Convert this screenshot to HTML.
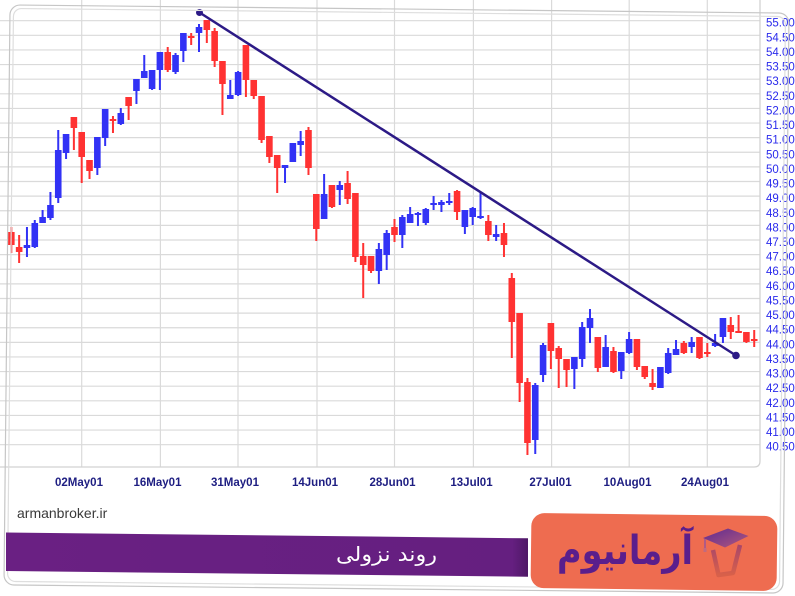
<!DOCTYPE html>
<html>
<head>
<meta charset="utf-8">
<style>
html,body{margin:0;padding:0;background:#fff;}
svg{display:block;}
</style>
</head>
<body>
<svg width="795" height="596" viewBox="0 0 795 596" xmlns="http://www.w3.org/2000/svg">
<defs>
<linearGradient id="cap" x1="0" y1="0" x2="1" y2="1">
<stop offset="0" stop-color="#5e2a92"/>
<stop offset="1" stop-color="#b2587c"/>
</linearGradient>
<linearGradient id="cup" x1="0" y1="0" x2="0" y2="1">
<stop offset="0" stop-color="#a8466a"/>
<stop offset="1" stop-color="#d8604a"/>
</linearGradient>
<linearGradient id="ban" x1="0" y1="0" x2="1" y2="0">
<stop offset="0" stop-color="#6a2083"/>
<stop offset="0.97" stop-color="#651f80"/>
<stop offset="1" stop-color="#4e1866"/>
</linearGradient>
</defs>
<rect width="795" height="596" fill="#fff"/>

<g stroke="#dadada" stroke-width="1.2">
<line x1="0" x2="760" y1="20.7" y2="20.7"/>
<line x1="0" x2="760" y1="35.32" y2="35.32"/>
<line x1="0" x2="760" y1="49.94" y2="49.94"/>
<line x1="0" x2="760" y1="64.56" y2="64.56"/>
<line x1="0" x2="760" y1="79.18" y2="79.18"/>
<line x1="0" x2="760" y1="93.8" y2="93.8"/>
<line x1="0" x2="760" y1="108.42" y2="108.42"/>
<line x1="0" x2="760" y1="123.04" y2="123.04"/>
<line x1="0" x2="760" y1="137.66" y2="137.66"/>
<line x1="0" x2="760" y1="152.28" y2="152.28"/>
<line x1="0" x2="760" y1="166.9" y2="166.9"/>
<line x1="0" x2="760" y1="181.52" y2="181.52"/>
<line x1="0" x2="760" y1="196.14" y2="196.14"/>
<line x1="0" x2="760" y1="210.76" y2="210.76"/>
<line x1="0" x2="760" y1="225.38" y2="225.38"/>
<line x1="0" x2="760" y1="240" y2="240"/>
<line x1="0" x2="760" y1="254.62" y2="254.62"/>
<line x1="0" x2="760" y1="269.24" y2="269.24"/>
<line x1="0" x2="760" y1="283.86" y2="283.86"/>
<line x1="0" x2="760" y1="298.48" y2="298.48"/>
<line x1="0" x2="760" y1="313.1" y2="313.1"/>
<line x1="0" x2="760" y1="327.72" y2="327.72"/>
<line x1="0" x2="760" y1="342.34" y2="342.34"/>
<line x1="0" x2="760" y1="356.96" y2="356.96"/>
<line x1="0" x2="760" y1="371.58" y2="371.58"/>
<line x1="0" x2="760" y1="386.2" y2="386.2"/>
<line x1="0" x2="760" y1="400.82" y2="400.82"/>
<line x1="0" x2="760" y1="415.44" y2="415.44"/>
<line x1="0" x2="760" y1="430.06" y2="430.06"/>
<line x1="0" x2="760" y1="444.68" y2="444.68"/>
<line x1="81.7" x2="81.7" y1="0" y2="467"/>
<line x1="160.4" x2="160.4" y1="0" y2="467"/>
<line x1="238" x2="238" y1="0" y2="467"/>
<line x1="317" x2="317" y1="0" y2="467"/>
<line x1="394.5" x2="394.5" y1="0" y2="467"/>
<line x1="473.4" x2="473.4" y1="0" y2="467"/>
<line x1="551.6" x2="551.6" y1="0" y2="467"/>
<line x1="629.2" x2="629.2" y1="0" y2="467"/>
<line x1="707.3" x2="707.3" y1="0" y2="467"/>
</g>
<path d="M0 467 H754 Q760 467 760 461 V0" fill="none" stroke="#d2d2d2" stroke-width="1.3"/>

<path fill="#ff3232" d="M10.32 227h2V253h-2Z M8.02 232h6.6V245h-6.6Z M18.14 235h2V263h-2Z M15.84 247h6.6V252h-6.6Z M72.88 117h2V150h-2Z M70.58 117h6.6V128h-6.6Z M80.7 132h2V183h-2Z M78.4 132h6.6V157h-6.6Z M88.52 160h2V179h-2Z M86.22 160h6.6V171h-6.6Z M111.98 116h2V133h-2Z M109.68 119h6.6V121h-6.6Z M127.62 97h2V120h-2Z M125.32 97h6.6V106h-6.6Z M166.72 47h2V72h-2Z M164.42 52h6.6V70h-6.6Z M190.18 33h2V45h-2Z M187.88 36h6.6V38h-6.6Z M205.82 20h2V43h-2Z M203.52 20h6.6V30h-6.6Z M213.64 28h2V67h-2Z M211.34 31h6.6V61h-6.6Z M221.46 61h2V115h-2Z M219.16 61h6.6V84h-6.6Z M244.92 45h2V97h-2Z M242.62 45h6.6V80h-6.6Z M252.74 80h2V99h-2Z M250.44 80h6.6V96h-6.6Z M260.56 96h2V143h-2Z M258.26 96h6.6V140h-6.6Z M268.38 136h2V163h-2Z M266.08 136h6.6V157h-6.6Z M276.2 155h2V193h-2Z M273.9 155h6.6V168h-6.6Z M307.48 127h2V175h-2Z M305.18 130h6.6V168h-6.6Z M315.3 194h2V241h-2Z M313 194h6.6V229h-6.6Z M330.94 185h2V208h-2Z M328.64 185h6.6V207h-6.6Z M346.58 171h2V204h-2Z M344.28 183h6.6V199h-6.6Z M354.4 193h2V262h-2Z M352.1 193h6.6V257h-6.6Z M362.22 243h2V298h-2Z M359.92 256h6.6V265h-6.6Z M370.04 256h2V273h-2Z M367.74 256h6.6V271h-6.6Z M393.5 219h2V242h-2Z M391.2 227h6.6V235h-6.6Z M456.06 190h2V220h-2Z M453.76 191h6.6V212h-6.6Z M487.34 215h2V241h-2Z M485.04 221h6.6V235h-6.6Z M502.98 223h2V257h-2Z M500.68 233h6.6V245h-6.6Z M510.8 273h2V358h-2Z M508.5 278h6.6V322h-6.6Z M518.62 313h2V402h-2Z M516.32 313h6.6V383h-6.6Z M526.44 378h2V455h-2Z M524.14 382h6.6V443h-6.6Z M549.9 323h2V369h-2Z M547.6 323h6.6V351h-6.6Z M557.72 346h2V388h-2Z M555.42 348h6.6V359h-6.6Z M565.54 359h2V387h-2Z M563.24 359h6.6V370h-6.6Z M596.82 337h2V372h-2Z M594.52 337h6.6V368h-6.6Z M612.46 347h2V373h-2Z M610.16 351h6.6V372h-6.6Z M635.92 339h2V370h-2Z M633.62 339h6.6V367h-6.6Z M643.74 366h2V379h-2Z M641.44 366h6.6V377h-6.6Z M651.56 369h2V390h-2Z M649.26 383h6.6V387h-6.6Z M682.84 341h2V354h-2Z M680.54 343h6.6V353h-6.6Z M698.48 337h2V359h-2Z M696.18 337h6.6V358h-6.6Z M706.3 343h2V357h-2Z M704 352h6.6V354h-6.6Z M729.76 317h2V339h-2Z M727.46 325h6.6V332h-6.6Z M737.58 315h2V333h-2Z M735.28 331h6.6V333h-6.6Z M745.4 332h2V343h-2Z M743.1 332h6.6V342h-6.6Z M753.22 330h2V347h-2Z M750.92 339h6.6V341h-6.6Z"/>

<path fill="#3232f5" d="M25.96 227h2V257h-2Z M23.66 245h6.6V248h-6.6Z M33.78 220h2V248h-2Z M31.48 223h6.6V247h-6.6Z M41.6 210h2V223h-2Z M39.3 217h6.6V223h-6.6Z M49.42 192h2V220h-2Z M47.12 205h6.6V218h-6.6Z M57.24 130h2V203h-2Z M54.94 150h6.6V198h-6.6Z M65.06 134h2V159h-2Z M62.76 134h6.6V153h-6.6Z M96.34 137h2V175h-2Z M94.04 137h6.6V168h-6.6Z M104.16 109h2V146h-2Z M101.86 109h6.6V138h-6.6Z M119.8 108h2V125h-2Z M117.5 113h6.6V124h-6.6Z M135.44 79h2V104h-2Z M133.14 79h6.6V91h-6.6Z M143.26 55h2V78h-2Z M140.96 71h6.6V78h-6.6Z M151.08 70h2V90h-2Z M148.78 70h6.6V89h-6.6Z M158.9 52h2V90h-2Z M156.6 52h6.6V70h-6.6Z M174.54 53h2V74h-2Z M172.24 55h6.6V72h-6.6Z M182.36 33h2V62h-2Z M180.06 33h6.6V51h-6.6Z M198 24h2V52h-2Z M195.7 27h6.6V33h-6.6Z M229.28 80h2V99h-2Z M226.98 95h6.6V99h-6.6Z M237.1 71h2V96h-2Z M234.8 72h6.6V95h-6.6Z M284.02 165h2V183h-2Z M281.72 165h6.6V168h-6.6Z M291.84 143h2V162h-2Z M289.54 143h6.6V162h-6.6Z M299.66 131h2V156h-2Z M297.36 141h6.6V145h-6.6Z M323.12 174h2V219h-2Z M320.82 194h6.6V219h-6.6Z M338.76 181h2V205h-2Z M336.46 185h6.6V190h-6.6Z M377.86 243h2V284h-2Z M375.56 249h6.6V271h-6.6Z M385.68 230h2V270h-2Z M383.38 233h6.6V255h-6.6Z M401.32 215h2V248h-2Z M399.02 217h6.6V235h-6.6Z M409.14 207h2V223h-2Z M406.84 214h6.6V223h-6.6Z M416.96 212h2V226h-2Z M414.66 213h6.6V215h-6.6Z M424.78 208h2V225h-2Z M422.48 209h6.6V223h-6.6Z M432.6 196h2V210h-2Z M430.3 203h6.6V205h-6.6Z M440.42 200h2V212h-2Z M438.12 202h6.6V205h-6.6Z M448.24 193h2V205h-2Z M445.94 201h6.6V203h-6.6Z M463.88 210h2V234h-2Z M461.58 210h6.6V227h-6.6Z M471.7 207h2V225h-2Z M469.4 208h6.6V217h-6.6Z M479.52 192h2V219h-2Z M477.22 216h6.6V218h-6.6Z M495.16 225h2V241h-2Z M492.86 234h6.6V237h-6.6Z M534.26 383h2V454h-2Z M531.96 385h6.6V440h-6.6Z M542.08 343h2V382h-2Z M539.78 345h6.6V375h-6.6Z M573.36 357h2V389h-2Z M571.06 357h6.6V369h-6.6Z M581.18 322h2V367h-2Z M578.88 327h6.6V359h-6.6Z M589 309h2V343h-2Z M586.7 318h6.6V328h-6.6Z M604.64 335h2V367h-2Z M602.34 347h6.6V367h-6.6Z M620.28 352h2V379h-2Z M617.98 352h6.6V371h-6.6Z M628.1 332h2V354h-2Z M625.8 339h6.6V353h-6.6Z M659.38 367h2V388h-2Z M657.08 367h6.6V388h-6.6Z M667.2 348h2V374h-2Z M664.9 353h6.6V373h-6.6Z M675.02 340h2V355h-2Z M672.72 349h6.6V355h-6.6Z M690.66 337h2V353h-2Z M688.36 342h6.6V347h-6.6Z M714.12 334h2V347h-2Z M711.82 343h6.6V346h-6.6Z M721.94 318h2V343h-2Z M719.64 318h6.6V337h-6.6Z"/>

<line x1="199.5" y1="12.5" x2="736" y2="355.5" stroke="#2c1a86" stroke-width="2.5"/>
<circle cx="199.5" cy="12.5" r="3.5" fill="#2c1a86"/>
<circle cx="736" cy="355.5" r="3.8" fill="#2c1a86"/>

<g font-family="Liberation Sans, Arial, sans-serif" font-size="11.5" fill="#2a2aec">
<text x="766" y="26.7">55.00</text>
<text x="766" y="41.3">54.50</text>
<text x="766" y="55.9">54.00</text>
<text x="766" y="70.6">53.50</text>
<text x="766" y="85.2">53.00</text>
<text x="766" y="99.8">52.50</text>
<text x="766" y="114.4">52.00</text>
<text x="766" y="129">51.50</text>
<text x="766" y="143.7">51.00</text>
<text x="766" y="158.3">50.50</text>
<text x="766" y="172.9">50.00</text>
<text x="766" y="187.5">49.50</text>
<text x="766" y="202.1">49.00</text>
<text x="766" y="216.8">48.50</text>
<text x="766" y="231.4">48.00</text>
<text x="766" y="246">47.50</text>
<text x="766" y="260.6">47.00</text>
<text x="766" y="275.2">46.50</text>
<text x="766" y="289.9">46.00</text>
<text x="766" y="304.5">45.50</text>
<text x="766" y="319.1">45.00</text>
<text x="766" y="333.7">44.50</text>
<text x="766" y="348.3">44.00</text>
<text x="766" y="363">43.50</text>
<text x="766" y="377.6">43.00</text>
<text x="766" y="392.2">42.50</text>
<text x="766" y="406.8">42.00</text>
<text x="766" y="421.4">41.50</text>
<text x="766" y="436.1">41.00</text>
<text x="766" y="450.7">40.50</text>
</g>

<g font-family="Liberation Sans, Arial, sans-serif" font-size="11.5" font-weight="bold" fill="#1e1e82" text-anchor="middle">
<text x="79" y="486">02May01</text>
<text x="157.5" y="486">16May01</text>
<text x="235" y="486">31May01</text>
<text x="315" y="486">14Jun01</text>
<text x="392.5" y="486">28Jun01</text>
<text x="471.5" y="486">13Jul01</text>
<text x="550.5" y="486">27Jul01</text>
<text x="627.5" y="486">10Aug01</text>
<text x="705" y="486">24Aug01</text>
</g>

<g transform="rotate(0.6 396 298)" fill="none">
<rect x="7" y="9" width="779" height="580" rx="10" stroke="#c6c6c6" stroke-width="1.2"/>
<rect x="10.5" y="12.5" width="772" height="573" rx="8" stroke="#dedede" stroke-width="1.2"/>
</g>

<text x="17" y="518" font-family="Liberation Sans, Arial, sans-serif" font-size="14" fill="#3a3a3a">armanbroker.ir</text>

<polygon points="6,532.5 528,538.3 528,576.7 6,571" fill="url(#ban)"/>
<text x="386.5" y="561" font-family="DejaVu Sans, sans-serif" font-size="20" font-weight="500" fill="#ffffff" text-anchor="middle" textLength="101" lengthAdjust="spacingAndGlyphs">روند نزولی</text>

<rect x="531" y="514.5" width="246" height="75" rx="13" fill="#ee6c50" transform="rotate(0.7 654 552)"/>
<text x="625" y="564" font-family="DejaVu Sans, sans-serif" font-size="40" font-weight="bold" fill="#5a1e8c" text-anchor="middle" textLength="136" lengthAdjust="spacingAndGlyphs">آرمانیوم</text>

<polyline points="713,550 718.5,575 733,573 740,545" fill="none" stroke="url(#cup)" stroke-width="4.5" stroke-linejoin="round"/>
<polygon points="703,538 728,528.5 748.5,536 725,547.5" fill="url(#cap)"/>
<line x1="705" y1="539" x2="705" y2="549" stroke="#b05a86" stroke-width="2"/>
<rect x="703.5" y="548" width="3" height="4" fill="#c06a80"/>
</svg>
</body>
</html>
